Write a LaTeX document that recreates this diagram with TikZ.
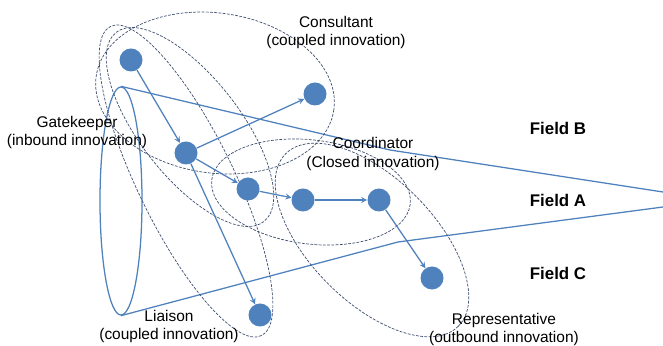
\documentclass[tikz,border=0pt]{standalone}
\usepackage{fontspec}
\setmainfont{Liberation Sans}
\usepackage{tikz}
\usetikzlibrary{arrows,shapes,positioning}
\usepackage{xcolor}
\definecolor{actorblue}{RGB}{79,129,189}
\definecolor{groupgray}{RGB}{62,78,112}
\tikzstyle{arrow} = [line width=0.9pt,->,>=stealth,color=actorblue]
\tikzstyle{actor} = [circle, fill=actorblue, minimum size=0.575cm, inner sep=0pt]
\tikzstyle{group} = [draw=groupgray, line width=0.5pt, dash pattern=on 2pt off 1pt]
\tikzstyle{field} = [draw=actorblue, line width=0.9pt]
\tikzstyle{role} = [font=\fontsize{11}{13.5}\selectfont, align=center]
\tikzstyle{fieldname} = [font=\fontsize{12}{14}\selectfont\bfseries]

\begin{document}
\begin{tikzpicture}[x=0.025cm, y=-0.025cm]
    \useasboundingbox (0,0) rectangle (663,346);

    % Cone of the three fields
    \node[field, ellipse, minimum width=1.05cm, minimum height=5.7cm, inner sep=0pt] (base) at (121,201) {};
    \coordinate (bendB) at (390,150);
    \coordinate (edgeB) at (663,192);
    \coordinate (bendC) at (398,242);
    \coordinate (edgeC) at (663,207);
    \draw[field] (base.north) -- (bendB) -- (edgeB);
    \draw[field] (base.south) -- (bendC) -- (edgeC);

    % Brokerage groups
    \draw[group, rotate around={-8:(215,93)}] (215,93) ellipse [x radius=120, y radius=80];
    \draw[group, rotate around={-52:(190,127)}] (190,127) ellipse [x radius=120, y radius=50];
    \draw[group, rotate around={-64:(186,181)}] (186,181) ellipse [x radius=172, y radius=48];
    \draw[group, rotate around={-7:(311,192)}] (311,192) ellipse [x radius=100, y radius=52];
    \draw[group, rotate around={-45:(372,240)}] (372,240) ellipse [x radius=122, y radius=62];

    % Actors
    \node[actor] (b1) at (131,60) {};
    \node[actor] (b2) at (315,94) {};
    \node[actor] (a1) at (186,153) {};
    \node[actor] (a2) at (248,189) {};
    \node[actor] (a3) at (303,200) {};
    \node[actor] (a4) at (379,200) {};
    \node[actor] (c1) at (432,278) {};
    \node[actor] (c2) at (260,315) {};

    % Flows
    \draw[arrow] (b1) -- (a1);
    \draw[arrow] (a1) -- (b2);
    \draw[arrow] (a1) -- (a2);
    \draw[arrow] (a2) -- (a3);
    \draw[arrow] (a3) -- (a4);
    \draw[arrow] (a4) -- (c1);
    \draw[arrow] (a1) -- (c2);

    % Roles
    \node[role] (consultant) at (336,32.5) {Consultant\\(coupled innovation)};
    \node[role] (gatekeeper) at (77,132.5) {Gatekeeper\\(inbound innovation)};
    \node[role] (coordinator) at (373,154) {Coordinator\\(Closed innovation)};
    \node[role] (liaison) at (169,326.5) {Liaison\\(coupled innovation)};
    \node[role] (representative) at (504,329.5) {Representative\\(outbound innovation)};

    % Fields
    \node[fieldname] (fieldB) at (558,128) {Field B};
    \node[fieldname] (fieldA) at (558,200) {Field A};
    \node[fieldname] (fieldC) at (558,273) {Field C};
\end{tikzpicture}
\end{document}
